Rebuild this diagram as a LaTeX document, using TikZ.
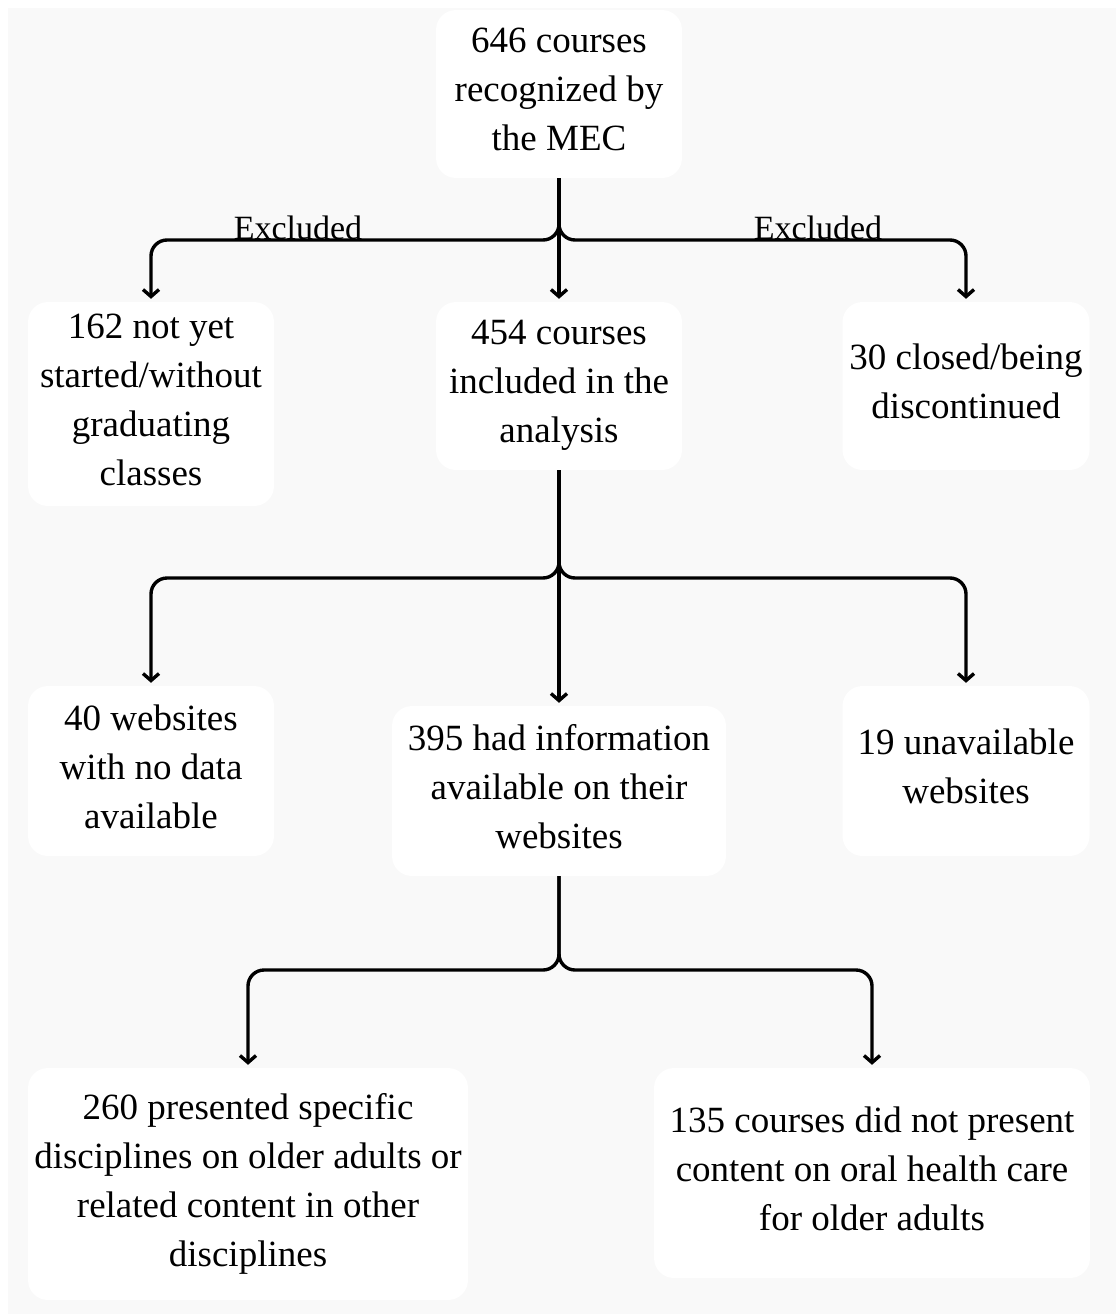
\documentclass[tikz,border=0pt]{standalone}
\usepackage{fontspec}
\setmainfont{Liberation Serif}
\usetikzlibrary{arrows.meta}
\definecolor{panel}{HTML}{F9F9F9}
\tikzset{
  box/.style={fill=white, draw=none, rounded corners=20pt, inner sep=0pt, align=center,
    font=\fontsize{37}{49}\selectfont, execute at end node={\rule[-9pt]{0pt}{9pt}}},
  lbl/.style={inner sep=0pt, anchor=base, font=\fontsize{34}{40}\selectfont},
  link/.style={line width=3.4pt, rounded corners=16pt, -{Straight Barb[length=7pt,width=16pt,line width=3.4pt]}, shorten >=3pt},
}
\begin{document}
\begin{tikzpicture}[x=1pt,y=-1pt]
\useasboundingbox (0,0) rectangle (1116,1314);
\fill[white] (0,0) rectangle (1116,1314);
\fill[panel] (8,8) rectangle (1116,1314);

% boxes
\node[box, minimum width=246pt, minimum height=168pt] (top) at (559,94) {646 courses\\recognized by\\the MEC};
\node[box, minimum width=246pt, minimum height=204pt] (n162) at (151,404) {162 not yet\\started/without\\graduating\\classes};
\node[box, minimum width=246pt, minimum height=168pt] (n454) at (559,386) {454 courses\\included in the\\analysis};
\node[box, minimum width=247pt, minimum height=168pt] (n30) at (966,386) {30 closed/being\\discontinued};
\node[box, minimum width=246pt, minimum height=170pt] (n40) at (151,771) {40 websites\\with no data\\available};
\node[box, minimum width=334pt, minimum height=170pt] (n395) at (559,791) {395 had information\\available on their\\websites};
\node[box, minimum width=247pt, minimum height=170pt] (n19) at (966,771) {19 unavailable\\websites};
\node[box, minimum width=440pt, minimum height=232pt] (n260) at (248,1184) {260 presented specific\\disciplines on older adults or\\related content in other\\disciplines};
\node[box, minimum width=436pt, minimum height=210pt] (n135) at (872,1173) {135 courses did not present\\content on oral health care\\for older adults};

% junction points
\coordinate (j1) at (559,240);
\coordinate (j2) at (559,578);
\coordinate (j3) at (559,970);

% connectors
\draw[link] (top.south) -- (j1) -- (j1 -| n162.north) -- (n162.north);
\draw[link] (top.south) -- (j1) -- (j1 -| n30.north) -- (n30.north);
\draw[link] (top.south) -- (n454.north);

\draw[link] (n454.south) -- (j2) -- (j2 -| n40.north) -- (n40.north);
\draw[link] (n454.south) -- (j2) -- (j2 -| n19.north) -- (n19.north);
\draw[link] (n454.south) -- (n395.north);

\draw[link] (n395.south) -- (j3) -- (j3 -| n260.north) -- (n260.north);
\draw[link] (n395.south) -- (j3) -- (j3 -| n135.north) -- (n135.north);

% labels
\node[lbl] (ex1) at (298,239) {Excluded};
\node[lbl] (ex2) at (818,239) {Excluded};
\end{tikzpicture}
\end{document}
